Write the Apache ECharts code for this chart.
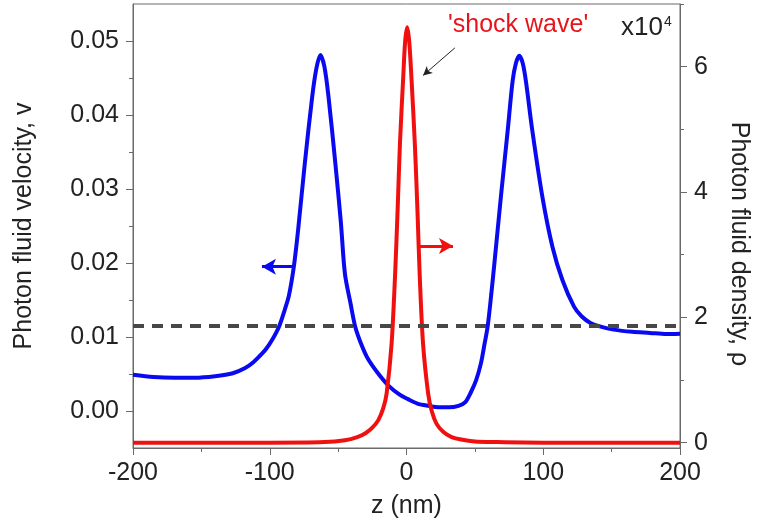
<!DOCTYPE html>
<html>
<head>
<meta charset="utf-8">
<script src="https://cdn.jsdelivr.net/npm/echarts@6/dist/echarts.min.js"></script>
<style>
html,body{margin:0;padding:0;background:#fff;}
#chart{width:759px;height:530px;}
</style>
</head>
<body>
<div id="chart"></div>
<script>
// velocity (left axis)
var zBlue = [-200,-185,-170,-155,-140,-127,-118,-112,-107,-103,-98,-93,-89,-86,-82.4,-79.3,-74.4,-69,-66,-63,-60,-57,-52,-48,-45,-41,-37.5,-33,-28,-20,-13,-5,1,8,16,24,31,38,43,47,51,54.5,57,59.4,62,64.3,69,74,77.6,80,82.5,85,87.3,92,99.4,106.7,114,122.5,128,134.5,142,151.5,165,178,190,200];
var vBlue = [0.0049,0.0046,0.0045,0.0045,0.0047,0.0051,0.0058,0.0066,0.0075,0.0083,0.0097,0.0115,0.0137,0.0156,0.0195,0.0244,0.0334,0.0424,0.0462,0.0481,0.0465,0.0424,0.0334,0.0255,0.0185,0.0146,0.0114,0.0090,0.0070,0.0049,0.0034,0.0022,0.0016,0.0010,0.0007,0.0005,0.0005,0.0007,0.0012,0.0025,0.0042,0.0065,0.0090,0.0115,0.0158,0.0200,0.0289,0.0379,0.0446,0.0470,0.0480,0.0470,0.0446,0.0379,0.0289,0.0222,0.0177,0.0141,0.0128,0.0119,0.0114,0.0110,0.0107,0.01055,0.0104,0.01045];
// density x1e4 (right axis), red curve
var zRed = [-200,-100,-60,-45,-36,-30,-25,-20.6,-17,-14.5,-10.9,-8.4,-6.5,-4.8,-2.4,-1,0.5,2,3.6,6.1,8,9.7,12.1,15.8,18.5,22,27,33,40,50,65,100,200];
var rhoRed = [0,0,0.01,0.04,0.09,0.15,0.24,0.36,0.55,0.79,1.58,2.65,3.71,4.77,5.83,6.4,6.63,6.4,5.83,4.77,3.71,2.65,1.58,0.79,0.5,0.3,0.17,0.09,0.05,0.02,0.01,0,0];
var dashLevel = 0.01157;

var leftTicks = [0,0.01,0.02,0.03,0.04,0.05];
var leftMinor = [0.005,0.015,0.025,0.035,0.045];
var rightTicks = [0,2,4,6];
var rightMinor = [1,3,5,7];

var font = 'Liberation Sans, Arial, sans-serif';
var axisColor = '#6a6a6a';

var chart = echarts.init(document.getElementById('chart'));

function minorAxis(pos, min, max, vals){
    return {
        type:'value', position:pos, min:min, max:max,
        axisLine:{show:false, onZero:false},
        axisTick:{show:true, inside:false, length:4, customValues:vals, lineStyle:{color:axisColor}},
        axisLabel:{show:false},
        splitLine:{show:false}
    };
}

chart.setOption({
    animation:false,
    grid:{
        left:133, right:76, top:4, bottom:82,
        show:true, borderColor:axisColor, borderWidth:1
    },
    xAxis:{
        type:'value', min:-200, max:200, interval:100,
        name:'z (nm)', nameLocation:'middle', nameGap:46,
        nameTextStyle:{fontSize:25, fontFamily:font, color:'#222'},
        axisLine:{onZero:false, lineStyle:{color:axisColor}},
        axisTick:{inside:false, length:7, lineStyle:{color:axisColor}},
        minorTick:{show:true, splitNumber:2, length:4, lineStyle:{color:axisColor}},
        axisLabel:{fontSize:25, fontFamily:font, color:'#222', margin:13},
        splitLine:{show:false}
    },
    yAxis:[
        {
            type:'value', position:'left', min:-0.005, max:0.055,
            name:'Photon fluid velocity, v', nameLocation:'middle', nameGap:96,
            nameTextStyle:{fontSize:25, fontFamily:font, color:'#222'},
            axisLine:{show:true, onZero:false, lineStyle:{color:axisColor}},
            axisTick:{show:true, inside:false, length:7, customValues:leftTicks, lineStyle:{color:axisColor}},
            axisLabel:{customValues:leftTicks, fontSize:25, fontFamily:font, color:'#222', margin:14,
                formatter:function(v){ return v.toFixed(2); }},
            splitLine:{show:false}
        },
        {
            type:'value', position:'right', min:-0.085, max:7,
            name:'Photon fluid density, \u03c1', nameLocation:'middle', nameGap:46, nameRotate:-90,
            nameTextStyle:{fontSize:25, fontFamily:font, color:'#222', padding:[0,0,0,36]},
            axisLine:{show:true, onZero:false, lineStyle:{color:axisColor}},
            axisTick:{show:true, inside:false, length:7, customValues:rightTicks, lineStyle:{color:axisColor}},
            axisLabel:{customValues:rightTicks, fontSize:25, fontFamily:font, color:'#222', margin:14},
            splitLine:{show:false}
        },
        minorAxis('left', -0.005, 0.055, leftMinor),
        minorAxis('right', -0.085, 7, rightMinor)
    ],
    graphic:[
        {type:'text', left:448, top:13, style:{text:"'shock wave'", fill:'#e8141c', font:'25px ' + font}},
        {type:'text', left:621, top:15, style:{text:'x10', fill:'#222', font:'26px ' + font}},
        {type:'text', left:664, top:15, style:{text:'4', fill:'#222', font:'14px ' + font}}
    ],
    series:[
        {
            type:'line', yAxisIndex:0, showSymbol:false, smooth:0.3,
            data:zBlue.map(function(z,i){ return [z, vBlue[i]]; }),
            lineStyle:{color:'#0a0af0', width:4},
            markLine:{
                silent:true, label:{show:false},
                data:[
                    [{coord:[-200,dashLevel], symbol:'none', lineStyle:{color:'#474747', width:4, type:[11,8]}},
                     {coord:[200,dashLevel], symbol:'none'}],
                    [{coord:[-82.4,0.0195], symbol:'none', lineStyle:{color:'#0a0af0', width:3, type:'solid'}},
                     {coord:[-105.7,0.0195], symbol:'arrow', symbolSize:[12,14]}]
                ]
            }
        },
        {
            type:'line', yAxisIndex:1, showSymbol:false, smooth:0.3,
            data:zRed.map(function(z,i){ return [z, rhoRed[i]]; }),
            lineStyle:{color:'#f01010', width:4},
            markLine:{
                silent:true, label:{show:false},
                data:[
                    [{coord:[8.5,3.14], symbol:'none', lineStyle:{color:'#f01010', width:3, type:'solid'}},
                     {coord:[34,3.14], symbol:'arrow', symbolSize:[12,14]}],
                    [{coord:[35.4,6.30], symbol:'none', lineStyle:{color:'#222', width:1, type:'solid'}},
                     {coord:[12.1,5.86], symbol:'arrow', symbolSize:[7,9]}]
                ]
            }
        }
    ]
});
</script>
</body>
</html>
